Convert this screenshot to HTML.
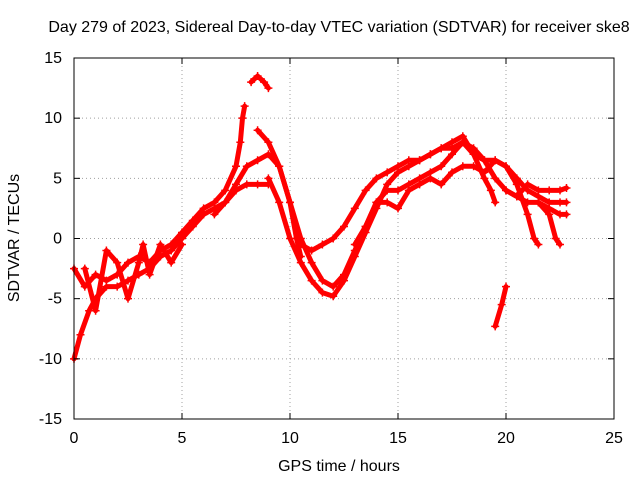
<!DOCTYPE html>
<html><head><meta charset="utf-8"><style>
body{margin:0;background:#fff}
svg{display:block;font-family:"Liberation Sans",sans-serif;font-size:16px}
</style></head><body>
<svg width="640" height="480">
<rect width="640" height="480" fill="#fff"/>
<text x="339" y="32" text-anchor="middle">Day 279 of 2023, Sidereal Day-to-day VTEC variation (SDTVAR) for receiver ske8</text>
<g id="grid"></g><g id="marks"></g><g id="axes"></g>
<text x="339" y="471" text-anchor="middle">GPS time / hours</text>
<text transform="translate(19,238) rotate(-90)" text-anchor="middle">SDTVAR / TECUs</text>
</svg>
<script>
const xTicks=[0,5,10,15,20,25];
const yTicks=[-15,-10,-5,0,5,10,15];
const trackA=[[0,-10],[0.3,-8],[0.7,-6],[1,-5],[1.5,-4],[2,-4],[2.5,-3.5],[3,-3],[3.5,-2.5],[4,-1.5],[4.5,-1],[5,0],[5.5,1],[6,2],[6.5,2.5],[7,3],[7.5,4],[8,4.5],[8.5,4.5],[9,4.5]];
const trackB=[[0,-2.5],[0.5,-4],[1,-3],[1.5,-3.5],[2,-3],[2.5,-2],[3,-1.5],[3.5,-2],[4,-1],[4.5,-0.5],[5,0.5],[5.5,1.5],[6,2.5],[6.5,3],[7,4],[7.5,6],[7.7,8],[7.8,10],[7.9,11]];
const trackPeak=[[8.2,13],[8.5,13.5],[8.8,13],[9,12.5]];
const trackC=[[6.5,2],[7,3],[7.5,4.5],[8,6],[8.5,6.5],[9,7],[9.5,6],[10,3],[10.5,0],[11,-2],[11.5,-3.5],[12,-4],[12.5,-3],[13,-1],[13.5,1],[14,3],[14.5,4],[15,4],[15.5,4.5],[16,5],[16.5,5.5],[17,6],[17.5,7],[18,8],[18.5,7.5],[19,6.5],[19.5,5],[20,4],[20.5,3.5],[21,3],[21.5,3],[22,2.5],[22.5,2],[22.8,2]];
const trackD=[[8.5,9],[9,8],[9.5,6],[10,3],[10.3,0],[10.5,-1.5]];
const trackE=[[9,5],[9.5,3],[10,0],[10.5,-2],[11,-3.5],[11.5,-4.5],[12,-4.8],[12.5,-3.5],[13,-1.5],[13.5,0.5],[14,2.5],[14.5,4.5],[15,5.5],[15.5,6],[16,6.5],[16.5,7],[17,7.5],[17.5,8],[18,8.5],[18.5,7],[19,5],[19.3,4],[19.5,3]];
const trackF=[[10.5,-0.5],[11,-1],[11.5,-0.5],[12,0],[12.5,1],[13,2.5],[13.5,4],[14,5],[14.5,5.5],[15,6],[15.5,6.5],[16,6.5],[16.5,7],[17,7.5],[17.5,7.5],[18,8],[18.5,7],[19,6.5],[19.5,6.5],[20,6],[20.5,5],[21,4],[21.5,3.5],[22,3],[22.5,3],[22.8,3]];
const trackG=[[13,-0.5],[13.5,1],[14,3],[14.5,3],[15,2.5],[15.5,4],[16,4.5],[16.5,5],[17,4.5],[17.5,5.5],[18,6],[18.5,6],[19,5.5],[19.5,6.5],[20,6],[20.5,4.5],[21,2],[21.3,0],[21.5,-0.5]];
const trackH=[[20,4],[20.5,3.5],[21,4.5],[21.5,4],[22,4],[22.5,4],[22.8,4.2]];
const trackI=[[21.5,3],[22,2],[22.3,0],[22.5,-0.5]];
const trackJ=[[19.5,-7.3],[19.8,-5.5],[20,-4]];
const trackK=[[0.5,-2.5],[1,-6],[1.5,-1],[2,-2],[2.5,-5],[3,-2],[3.2,-0.5],[3.5,-3],[4,-0.5],[4.5,-2],[5,-0.5]];
const tracks=[trackA,trackB,trackPeak,trackC,trackD,trackE,trackF,trackG,trackH,trackI,trackJ,trackK];
const X0=74,X1=614,Y0=419,Y1=58;
const sx=v=>X0+(v-0)/25*(X1-X0);
const sy=v=>Y0-(v+15)/30*(Y0-Y1);
const NS="http://www.w3.org/2000/svg";
function mk(t,a,p){const e=document.createElementNS(NS,t);for(const k in a)e.setAttribute(k,a[k]);p.appendChild(e);return e;}
const grid=document.getElementById('grid'),axes=document.getElementById('axes'),marks=document.getElementById('marks');
xTicks.forEach(t=>{const x=sx(t);
 if(t>0&&t<25){const l=mk('line',{x1:x,x2:x,y1:Y1,y2:Y0,stroke:'#a0a0a0','stroke-dasharray':'1,3'},grid);}
 mk('line',{x1:x,x2:x,y1:Y0,y2:Y0-6,stroke:'#000'},axes);mk('line',{x1:x,x2:x,y1:Y1,y2:Y1+6,stroke:'#000'},axes);
 const tx=mk('text',{x:x,y:Y0+24,'text-anchor':'middle'},axes);tx.textContent=t;});
yTicks.forEach(t=>{const y=sy(t);
 if(t>-15&&t<15){const l=mk('line',{x1:X0,x2:X1,y1:y,y2:y,stroke:'#a0a0a0','stroke-dasharray':'1,3'},grid);}
 mk('line',{x1:X0,x2:X0+6,y1:y,y2:y,stroke:'#000'},axes);mk('line',{x1:X1,x2:X1-6,y1:y,y2:y,stroke:'#000'},axes);
 const tx=mk('text',{x:X0-12,y:y+5,'text-anchor':'end'},axes);tx.textContent=t;});
const fr=mk('rect',{x:X0,y:Y1,width:X1-X0,height:Y0-Y1,fill:'none',stroke:'#000'},axes);

tracks.forEach(tr=>{
 const pl=mk('polyline',{points:tr.map(p=>sx(p[0])+','+sy(p[1])).join(' '),fill:'none',stroke:'#f00','stroke-width':5,'stroke-linejoin':'round','stroke-linecap':'round'},marks);
 
 
 tr.forEach(p=>{const x=sx(p[0]),y=sy(p[1]);
  const m=mk('path',{d:`M${x-4},${y}H${x+4}M${x},${y-4}V${y+4}`,stroke:'#f00','stroke-width':1.5},marks);
  
  });
});
</script>
</body></html>
